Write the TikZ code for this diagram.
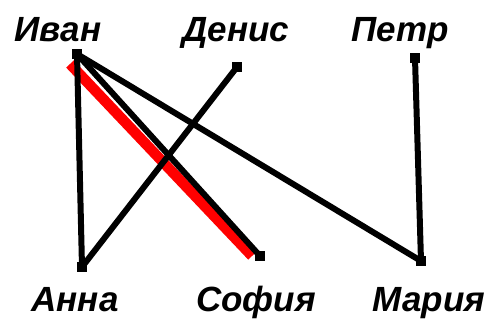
\documentclass[tikz,border=0pt]{standalone}
\usepackage{fontspec}
\setmainfont{Liberation Sans}
\begin{document}
\begin{tikzpicture}[x=1pt,y=-1pt,
  lbl/.style={anchor=base,inner sep=0pt,font=\fontsize{35}{40}\selectfont\bfseries\itshape},
  pt/.style={fill=black,minimum size=10pt,inner sep=0pt,draw=none},
  edge/.style={line width=6pt,black},
  redge/.style={line width=10.5pt,red}]
\useasboundingbox (0,0) rectangle (491,323);
% labels
\node[lbl] (lIvan) at (58,42) {Иван};
\node[lbl] (lDenis) at (236,42) {Денис};
\node[lbl] (lPetr) at (400,42) {Петр};
\node[lbl] (lAnna) at (75,312) {Анна};
\node[lbl] (lSofia) at (256,312) {София};
\node[lbl] (lMaria) at (429,312) {Мария};
% points
\coordinate (ivan) at (77,54);
\coordinate (denis) at (237,67);
\coordinate (petr) at (415,58);
\coordinate (anna) at (82,267);
\coordinate (sofia) at (260,256);
\coordinate (maria) at (421,261);
\coordinate (r1) at (70,64);
\coordinate (r2) at (252,256);
% red highlighted edge
\draw[redge] (r1) -- (r2);
% edges
\draw[edge] (ivan) -- (anna);
\draw[edge] (ivan) -- (sofia);
\draw[edge] (ivan) -- (maria);
\draw[edge] (denis) -- (anna);
\draw[edge] (petr) -- (maria);
% markers
\foreach \p in {ivan,denis,petr,anna,sofia,maria}
  \node[pt] (m\p) at (\p) {};
\end{tikzpicture}
\end{document}
